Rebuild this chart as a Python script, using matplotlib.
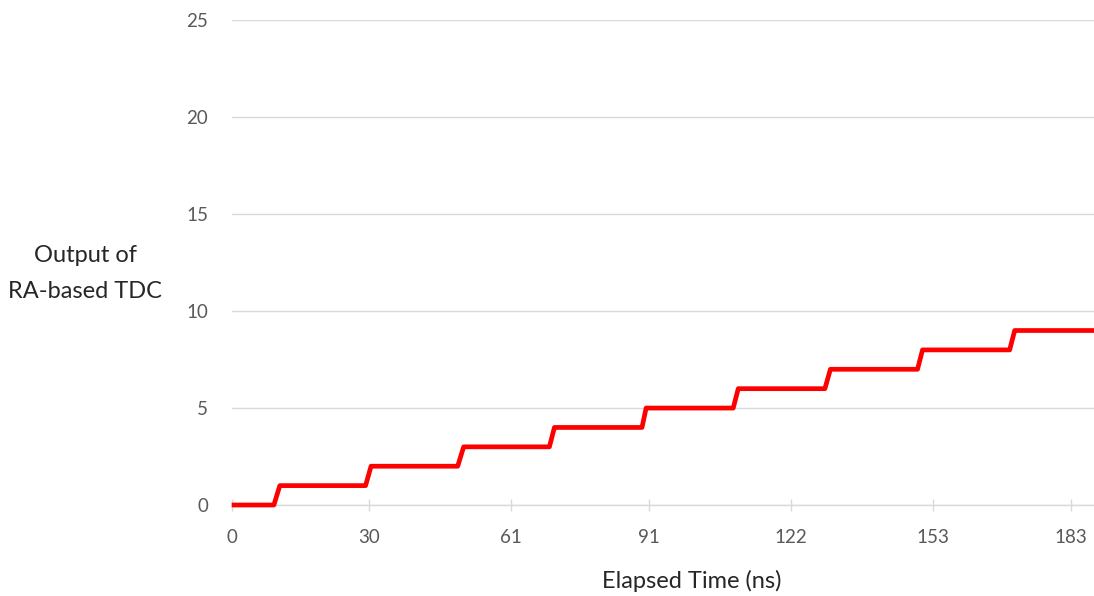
import matplotlib
matplotlib.use("Agg")
import matplotlib.pyplot as plt

# Data (ns, TDC output)
rise_start = [9.2, 29.2, 49.3, 69.3, 89.5, 109.4, 129.4, 149.6, 169.7]
rise_end = [10.5, 30.4, 50.6, 70.4, 90.4, 110.5, 130.6, 150.7, 170.8]
levels = [0, 1, 2, 3, 4, 5, 6, 7, 8, 9]
t_first = 0.0
t_last = 188.2

x_ticks = [0, 30, 61, 91, 122, 153, 183]
y_ticks = [0, 5, 10, 15, 20, 25]

# build stepped polyline from the readings
xs = [t_first]
ys = [levels[0]]
for i, (s, e) in enumerate(zip(rise_start, rise_end)):
    xs += [s, e]
    ys += [levels[i], levels[i + 1]]
xs.append(t_last)
ys.append(levels[-1])

plt.rcParams['font.family'] = ['Lato', 'DejaVu Sans']

W, H = 1094, 596
fig = plt.figure(figsize=(W / 100, H / 100), dpi=100)
ax = fig.add_axes([231.7 / W, 1 - 505 / H, (W - 231.7) / W, (505 - 20.3) / H])

ax.plot(xs, ys, color='#FF0000', lw=3.4, solid_joinstyle='round',
        solid_capstyle='butt', zorder=3, clip_on=False)

ax.set_xlim(0, 188.1)
ax.set_ylim(0, 25)
ax.set_xticks(x_ticks)
ax.set_yticks(y_ticks)
ax.set_xticklabels([str(v) for v in x_ticks])
ax.set_yticklabels([str(v) for v in y_ticks])

grid_c = '#D9D9D9'
ax.yaxis.grid(True, color=grid_c, lw=1.0)
ax.set_axisbelow(True)
for s in ['top', 'right', 'left']:
    ax.spines[s].set_visible(False)
ax.spines['bottom'].set_color(grid_c)
ax.spines['bottom'].set_linewidth(1.0)

ax.tick_params(axis='y', length=0, pad=17, labelsize=13.5, labelcolor='#595959')
ax.tick_params(axis='x', direction='inout', length=8, width=1.0, color=grid_c,
               pad=13.5, labelsize=13.5, labelcolor='#595959')

title_c = '#262626'
fig.text(692 / W, 1 - 588 / H, 'Elapsed Time (ns)', ha='center', va='baseline',
         fontsize=17, color=title_c)
fig.text(85 / W, 1 - 261.7 / H, 'Output of', ha='center', va='baseline',
         fontsize=17, color=title_c)
fig.text(85 / W, 1 - 298.3 / H, 'RA-based TDC', ha='center', va='baseline',
         fontsize=17, color=title_c)

fig.savefig('out.png', dpi=100)
